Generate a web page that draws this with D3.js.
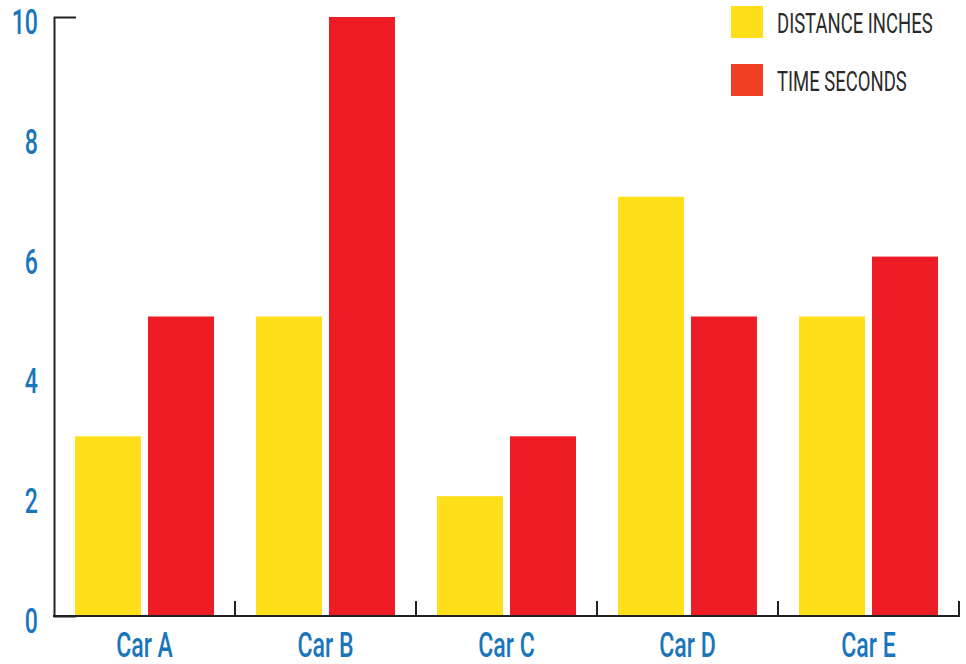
<!DOCTYPE html>
<html>
<head>
<meta charset="utf-8">
<script src="https://cdn.jsdelivr.net/npm/d3@7"></script>
<style>
  html, body { margin: 0; padding: 0; background: #fff; }
  svg { display: block; }
  .lbl { font-family: "Roboto", "Noto Sans", sans-serif; font-weight: 500; }
  .leg { font-family: "Roboto", "Noto Sans", sans-serif; font-weight: 400; }
</style>
</head>
<body>
<svg id="chart" width="966" height="664"></svg>
<script>
// Race results per car
const categories = ["Car A", "Car B", "Car C", "Car D", "Car E"];
const seriesNames = ["DISTANCE INCHES", "TIME SECONDS"];
const distanceInches = [3, 5, 2, 7, 5];
const timeSeconds = [5, 10, 3, 5, 6];
const yTicks = [0, 2, 4, 6, 8, 10];

const barColors = ["#fedf19", "#ed1c25"];
const legendColors = ["#fedf19", "#f03f24"];
const labelBlue = "#1b75bb";
const axisColor = "#222";
const squeeze = 0.66; // horizontal compression giving a condensed letterform

const svg = d3.select("#chart");
const plotLeft = 54, plotRight = 959, plotTop = 17, plotBottom = 616;

const x0 = d3.scaleBand().domain(categories).range([plotLeft, plotRight]).padding(0);
const x1 = d3.scaleBand().domain(seriesNames).range([0, x0.bandwidth()])
  .paddingInner(0.096).paddingOuter(0.288);
const y = d3.scaleLinear().domain([0, 10]).range([plotBottom, plotTop]);

const rows = categories.map((c, i) => ({ cat: c, vals: [distanceInches[i], timeSeconds[i]] }));

// Bars
const g = svg.append("g");
rows.forEach(r => {
  g.selectAll(null)
    .data(r.vals.map((v, j) => ({ name: seriesNames[j], v, j })))
    .join("rect")
    .attr("x", d => x0(r.cat) + x1(d.name))
    .attr("width", x1.bandwidth())
    .attr("y", d => y(d.v))
    .attr("height", d => y(0) - y(d.v))
    .attr("fill", d => barColors[d.j]);
});

// Y axis: spine with an inward cap at the top, labels only
const yAxis = d3.axisLeft(y).tickValues(yTicks).tickSize(0).tickSizeOuter(-22);
const yg = svg.append("g").attr("transform", `translate(${plotLeft},0)`).call(yAxis);
yg.select(".domain").attr("stroke", axisColor).attr("stroke-width", 2);
yg.selectAll(".tick text")
  .attr("class", "lbl")
  .attr("font-size", 35)
  .attr("fill", labelBlue)
  .attr("x", -16 / squeeze)
  .attr("dy", 16.5)
  .attr("transform", `scale(${squeeze},1)`);

// X axis: baseline with upward ticks at band edges
const xg = svg.append("g").attr("transform", `translate(0,${plotBottom})`);
xg.append("line")
  .attr("x1", plotLeft - 1).attr("x2", plotRight + 1)
  .attr("stroke", axisColor).attr("stroke-width", 2);
xg.selectAll("line.tk")
  .data(categories)
  .join("line")
  .attr("class", "tk")
  .attr("x1", d => x0(d) + x0.bandwidth()).attr("x2", d => x0(d) + x0.bandwidth())
  .attr("y1", 0).attr("y2", -15)
  .attr("stroke", axisColor).attr("stroke-width", 2);
xg.selectAll("g.xl")
  .data(categories)
  .join("g")
  .attr("class", "xl")
  .attr("transform", d => `translate(${x0(d) + x0.bandwidth() / 2},41) scale(${squeeze},1)`)
  .append("text")
  .attr("class", "lbl")
  .attr("text-anchor", "middle")
  .attr("font-size", 35)
  .attr("fill", labelBlue)
  .text(d => d);

// Legend
const lg = svg.append("g").attr("transform", "translate(731,6)");
seriesNames.forEach((name, i) => {
  const row = lg.append("g").attr("transform", `translate(0,${i * 58})`);
  row.append("rect").attr("width", 32).attr("height", 32).attr("fill", legendColors[i]);
  row.append("g")
    .attr("transform", `translate(46,27) scale(${squeeze},1)`)
    .append("text")
    .attr("class", "leg")
    .attr("font-size", 28)
    .attr("fill", "#2a2a2a")
    .text(name);
});
</script>
</body>
</html>
